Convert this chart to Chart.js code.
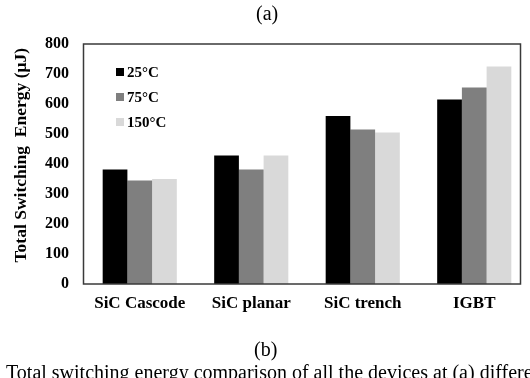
<!DOCTYPE html>
<html>
<head>
<meta charset="utf-8">
<script src="https://cdn.jsdelivr.net/npm/chart.js@4"></script>
<style>
  html, body { margin: 0; padding: 0; background: #fff; }
  #wrap { position: relative; width: 530px; height: 378px; overflow: hidden; }
  canvas { position: absolute; left: 0; top: 0; }
  .txt { position: absolute; font-family: "Liberation Serif", "Times New Roman", serif; color: #000; white-space: nowrap; }
  #legend { position: absolute; left: 116px; top: 62px; font-family: "Liberation Serif", serif; font-weight: bold; font-size: 15px; }
  #legend div { height: 25px; line-height: 20px; }
  #legend span.box { display: inline-block; width: 8px; height: 8px; margin-right: 3px; vertical-align: 1px; }
</style>
</head>
<body>
<div id="wrap">
  <canvas id="energyChart" width="530" height="378"></canvas>
  <div class="txt" style="left:256px; top:2px; font-size:20px;">(a)</div>
  <div id="legend"></div>
  <div class="txt" style="left:254px; top:338px; font-size:20px;">(b)</div>
  <div class="txt" style="left:6px; top:361px; font-size:20px;">Total switching energy comparison of all the devices at (a) different temperatures and (b) different</div>
</div>
<script>
// data
const devices = ['SiC Cascode', 'SiC planar', 'SiC trench', 'IGBT'];
const tempLabels = ['25\u00B0C', '75\u00B0C', '150\u00B0C'];
const energy25 = [382, 428, 560, 615];
const energy75 = [345, 382, 515, 655];
const energy150 = [350, 428, 505, 725];
const yTicks = [0, 100, 200, 300, 400, 500, 600, 700, 800];

const barColors = ['#000000', '#7f7f7f', '#d9d9d9'];
const serif = '"Liberation Serif", "Times New Roman", serif';

// legend inside the plot
const legend = document.getElementById('legend');
tempLabels.forEach(function (t, i) {
    const row = document.createElement('div');
    row.innerHTML = '<span class="box" style="background:' + barColors[i] + '"></span>' + t;
    legend.appendChild(row);
});

// box round the plot area (the original frame stops a little short of the last group's slot)
const frame = {
    id: 'frame',
    afterDatasetsDraw(chart) {
        const a = chart.chartArea;
        const ctx = chart.ctx;
        ctx.save();
        ctx.strokeStyle = '#3a3a3a';
        ctx.lineWidth = 1.5;
        ctx.strokeRect(a.left - 0.5, a.top, a.right - 9 - a.left, a.bottom - a.top);
        ctx.restore();
    }
};

const ctx = document.getElementById('energyChart').getContext('2d');
let energyChart = new Chart(ctx, {
    type: 'bar',
    data: {
        labels: devices,
        datasets: [
            { label: tempLabels[0], data: energy25, backgroundColor: barColors[0] },
            { label: tempLabels[1], data: energy75, backgroundColor: barColors[1] },
            { label: tempLabels[2], data: energy150, backgroundColor: barColors[2] }
        ]
    },
    options: {
        responsive: false,
        animation: false,
        layout: { padding: { left: 0, right: 0, top: 44, bottom: 0 } },
        datasets: { bar: { categoryPercentage: 0.665, barPercentage: 1.0 } },
        plugins: {
            legend: { display: false },
            tooltip: { enabled: false }
        },
        scales: {
            x: {
                grid: { display: false, drawTicks: false },
                border: { display: false },
                ticks: {
                    color: '#000',
                    padding: 9,
                    font: { family: serif, size: 17, weight: 'bold' }
                },
                afterFit(scale) { scale.height = 94; }
            },
            y: {
                min: 0,
                max: 800,
                grid: { display: false, drawTicks: false },
                border: { display: false },
                afterBuildTicks(scale) { scale.ticks = yTicks.map(v => ({ value: v })); },
                ticks: {
                    color: '#000',
                    padding: 15,
                    font: { family: serif, size: 16, weight: 'bold' }
                },
                title: {
                    display: true,
                    text: '\u00A0\u00A0\u00A0\u00A0Total Switching  Energy (\u03BCJ)',
                    color: '#000',
                    padding: { top: 11, bottom: 0 },
                    font: { family: serif, size: 17.5, weight: 'bold' }
                },
                afterFit(scale) { scale.width = 84; }
            }
        }
    },
    plugins: [frame]
});
</script>
</body>
</html>
